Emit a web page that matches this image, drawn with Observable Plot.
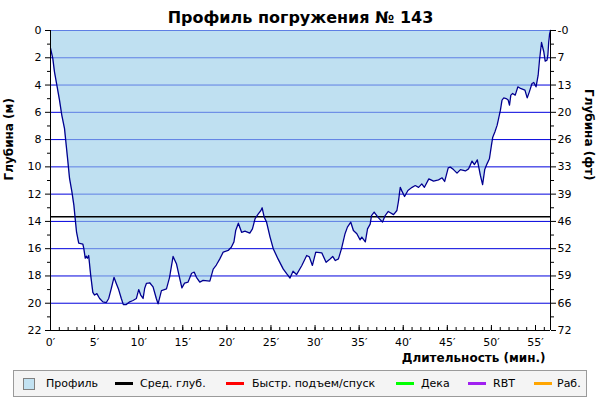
<!DOCTYPE html>
<html>
<head>
<meta charset="utf-8">
<script src="https://cdn.jsdelivr.net/npm/d3@7"></script>
<script src="https://cdn.jsdelivr.net/npm/@observablehq/plot@0.6"></script>
<style>
  html, body { margin: 0; padding: 0; background: #fff; }
  #wrap { width: 600px; font-family: "DejaVu Sans", Verdana, sans-serif; }
  #legend { position: relative; width: 574px; height: 27px; margin: 5px 0 0 13px; background: #f4f4f4; border: 1px solid #9a9a9a; box-sizing: border-box; font-size: 11px; color: #000; }
  #legend .item { position: absolute; top: 0; height: 25px; display: flex; align-items: center; white-space: nowrap; }
  #legend .sw { display: inline-block; }
</style>
</head>
<body>
<div id="wrap"></div>
<script>
// ---- data ----
const title = "Профиль погружения № 143";
const timeMin = [0,0.26,0.45,0.72,1.02,1.28,1.59,1.78,1.97,2.16,2.42,2.65,2.8,2.95,3.2,3.67,3.78,3.94,4.05,4.18,4.33,4.55,4.8,5.0,5.26,5.57,5.94,6.33,6.6,6.9,7.2,7.46,7.73,8.03,8.26,8.6,8.98,9.35,9.74,10.0,10.23,10.5,10.68,10.87,11.25,11.63,12.0,12.2,12.58,13.15,13.5,13.9,14.28,14.66,14.9,15.2,15.6,16.0,16.3,16.55,16.93,17.3,18.07,18.45,18.8,19.2,19.58,20.15,20.5,20.8,21.0,21.3,21.67,22.05,22.6,22.9,23.2,23.56,23.86,24.0,24.24,24.5,24.9,25.26,25.8,26.4,26.8,27.16,27.5,27.9,28.5,29.05,29.35,29.7,30.08,30.76,31.25,31.7,32.0,32.3,32.65,33.0,33.4,33.67,34.05,34.35,34.74,35.1,35.3,35.7,35.95,36.25,36.4,36.7,37.0,37.2,37.65,37.95,38.3,38.9,39.28,39.47,39.66,39.85,40.15,40.53,41.0,41.36,41.74,42.1,42.4,42.9,43.44,44.0,44.4,44.7,45.1,45.34,45.7,46.1,46.48,47.05,47.4,47.8,48.07,48.4,48.55,48.75,49.0,49.24,49.5,49.77,50.0,50.15,50.4,50.65,50.83,51.02,51.2,51.4,51.67,51.9,52.05,52.2,52.4,52.7,53.0,53.3,53.8,54.06,54.3,54.6,54.8,55.06,55.3,55.45,55.68,55.94,56.1,56.3,56.4,56.5,56.6,56.7];
const depthM = [1.3,2.05,3.03,4.0,5.1,6.2,7.2,8.4,9.6,10.85,11.8,12.8,13.8,14.76,15.6,15.67,16.0,16.7,16.55,16.7,16.5,17.9,19.2,19.4,19.3,19.65,19.9,19.95,19.65,18.9,18.1,18.55,19.0,19.65,20.1,20.1,19.9,19.8,19.65,19.0,19.4,19.65,18.9,18.55,18.5,18.8,19.65,20.05,19.07,18.95,18.1,16.57,17.1,18.2,18.87,18.53,18.45,17.8,17.72,18.1,18.45,18.33,18.38,17.5,17.2,16.75,16.25,16.13,15.9,15.5,14.67,14.13,14.8,14.72,14.86,14.55,13.8,13.45,13.2,13.0,13.7,14.05,15.15,16.0,16.75,17.5,17.85,18.15,17.65,17.9,17.23,16.5,16.6,17.23,16.25,16.3,17.0,16.75,16.57,16.87,16.75,16.0,14.9,14.42,14.06,14.67,14.9,15.35,15.15,15.5,14.55,14.2,13.57,13.32,13.57,13.74,14.05,13.57,13.27,13.5,13.2,12.47,11.5,11.78,12.17,11.73,11.5,11.37,11.5,11.25,11.5,10.88,11.05,10.95,10.8,11.07,10.07,10.02,10.2,10.46,10.2,10.3,10.15,9.58,9.83,9.49,9.97,10.63,11.3,10.2,9.78,9.41,8.43,7.82,7.43,6.94,6.4,5.84,5.1,4.94,4.99,5.1,5.47,4.74,4.62,4.74,4.13,4.25,4.37,4.94,4.5,3.89,3.81,4.13,3.28,2.18,0.88,1.56,2.25,2.18,1.81,0.83,0.25,0];
const avgDepth = 13.66;
const duration = 56.7;
const maxDepth = 22;
const depthTicks = [0,2,4,6,8,10,12,14,16,18,20,22];
const depthMinorTicks = [1,3,5,7,9,11,13,15,17,19,21];
const feetLabels = ["-0","7","13","20","26","33","39","46","52","59","66","72"];
const gridDepths = [0,2,4,6,8,10,12,14,16,18,20];
const timeTicks = [0,5,10,15,20,25,30,35,40,45,50,55];
const timeLabels = ["0′","5′","10′","15′","20′","25′","30′","35′","40′","45′","50′","55′"];
const timeMinorTicks = d3.range(0, 57);
const legendLabels = ["Профиль","Сред. глуб.","Быстр. подъем/спуск","Дека","RBT","Раб."];
const legendColors = ["#c2e2f2","#000000","#ff0000","#00ff00","#a020f0","#ffa500"];

const data = timeMin.map((t, i) => ({t, d: depthM[i]}));

// ---- chart ----
const font = "DejaVu Sans";
const plot = Plot.plot({
  width: 600,
  height: 365,
  marginLeft: 50,
  marginRight: 50,
  marginTop: 30,
  marginBottom: 35,
  x: {domain: [0, duration]},
  y: {domain: [0, maxDepth], reverse: true},
  style: {fontFamily: font, fontSize: "11px", background: "white", color: "black", overflow: "visible"},
  marks: [
    Plot.ruleY(gridDepths, {stroke: "#0000dd", strokeWidth: 1}),
    Plot.areaY(data, {x: "t", y1: 0, y2: "d", fill: "rgb(152,205,232)", fillOpacity: 0.62}),
    Plot.ruleY([avgDepth], {stroke: "#000", strokeWidth: 1.5}),
    Plot.line(data, {x: "t", y: "d", stroke: "#000090", strokeWidth: 1.3}),
    Plot.ruleX([0, duration], {stroke: "#000", strokeWidth: 1}),
    Plot.ruleY([maxDepth], {stroke: "#000", strokeWidth: 1}),
    // left axis
    Plot.axisY(depthTicks, {anchor: "left", tickSize: 5, tickPadding: 4, label: null, tickFormat: d => String(d), fontSize: 11}),
    Plot.axisY(depthMinorTicks, {anchor: "left", tickSize: 3, label: null, tickFormat: () => ""}),
    // right axis
    Plot.axisY(depthTicks, {anchor: "right", tickSize: 5, tickPadding: 2, label: null, tickFormat: d => feetLabels[depthTicks.indexOf(d)], fontSize: 11}),
    Plot.axisY(depthMinorTicks, {anchor: "right", tickSize: 3, label: null, tickFormat: () => ""}),
    // bottom axis
    Plot.ruleX(timeMinorTicks, {stroke: "#000", insetTop: 297}),
    Plot.ruleX(timeTicks, {stroke: "#000", insetTop: 295}),
    Plot.axisX(timeTicks, {anchor: "bottom", tickSize: 0, tickPadding: 8, label: null, tickFormat: d => timeLabels[timeTicks.indexOf(d)], fontSize: 11}),
    // titles
    Plot.text([title], {frameAnchor: "top", dy: -19, fontSize: 16, fontWeight: "bold", fill: "#000"}),
    Plot.text(["Длительность (мин.)"], {frameAnchor: "bottom-right", dx: -5, dy: 31, textAnchor: "end", fontSize: 12, fontWeight: "bold", fill: "#000"}),
    Plot.text(["Глубина (м)"], {frameAnchor: "left", dx: -41, rotate: -90, fontSize: 12, fontWeight: "bold", fill: "#000"}),
    Plot.text(["Глубина (фт)"], {frameAnchor: "right", dx: 38, rotate: 90, fontSize: 12, fontWeight: "bold", fill: "#000"})
  ]
});

const wrap = document.getElementById("wrap");
wrap.appendChild(plot);

// legend
const legendLayout = [{sw: 9, tx: 32}, {sw: 101, tx: 126}, {sw: 212, tx: 238}, {sw: 382, tx: 407}, {sw: 454, tx: 479}, {sw: 520, tx: 543}];
const legend = document.createElement("div");
legend.id = "legend";
legendLabels.forEach((lab, i) => {
  const sw = document.createElement("div");
  sw.className = "item";
  sw.style.left = legendLayout[i].sw + "px";
  const s = document.createElement("span");
  s.className = "sw";
  if (i === 0) {
    s.style.width = "10px"; s.style.height = "10px";
    s.style.background = legendColors[i];
    s.style.border = "1px solid #808080";
  } else {
    s.style.width = "18px"; s.style.height = "3px";
    s.style.background = legendColors[i];
  }
  sw.appendChild(s);
  legend.appendChild(sw);
  const tx = document.createElement("div");
  tx.className = "item";
  tx.style.left = legendLayout[i].tx + "px";
  tx.textContent = lab;
  legend.appendChild(tx);
});
wrap.appendChild(legend);
</script>
</body>
</html>
